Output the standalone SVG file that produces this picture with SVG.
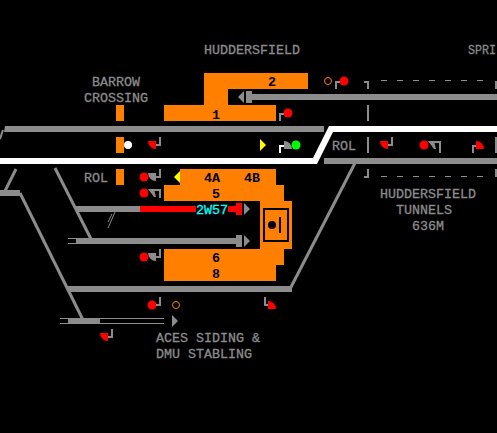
<svg xmlns="http://www.w3.org/2000/svg" width="497" height="433" viewBox="0 0 497 433">
<style>
text{font-family:"Liberation Mono","DejaVu Sans Mono",monospace;font-size:13.33px;fill:#8c8c8c;stroke:#8c8c8c;stroke-width:.3}
.b{fill:#000;stroke:none;font-weight:bold}
.c{fill:#0ff;stroke:#0ff}
.t{fill:#8c8c8c}.o{fill:#ff8000}.r{fill:#f00}
.p{fill:none;stroke:#8c8c8c;stroke-width:2}
.d{fill:none;stroke:#8c8c8c;stroke-width:3}
.th{fill:none;stroke:#8c8c8c;stroke-width:1}
.dash{fill:none;stroke:#8c8c8c;stroke-width:1;stroke-dasharray:6 10}
.ring{fill:none;stroke:#ff8000;stroke-width:1}
</style>
<defs>
<path id="armL" d="M-8,-4H0V4A8,8 0 0 1 -8,-4Z"/>
<path id="armR" d="M0,-4A8,8 0 0 1 8,4H0Z"/>
<path id="armD" d="M-8,-4H-2L0,4H-2Z"/>
</defs>
<rect width="497" height="433" fill="#000"/>
<g id="connectors">
<path class="t" d="M5,126H324V132H4Z"/>
<path d="M3,130L0,139" class="p"/>
<path fill="#fff" d="M0,158H313L329,126H497V132H333L317,164H0Z"/>
<rect class="t" x="324" y="158" width="173" height="6"/>
<rect class="t" x="252" y="94" width="245" height="6"/>
<rect class="t" x="246" y="91" width="6" height="12"/>
<path class="t" d="M244,91V103L238,97Z"/>
<path class="d" d="M16,169L5,191"/>
<rect class="t" x="0" y="190" width="20" height="6"/>
<path class="d" d="M20,193L82.500,319"/>
<path class="d" d="M55,168L92,241"/>
<rect class="t" x="76" y="206" width="64" height="6"/>
<rect class="r" x="140" y="206" width="96" height="6"/>
<rect class="r" x="236" y="203" width="6" height="12"/>
<path class="t" d="M244,203L250,209L244,215Z"/>
<path class="th" d="M115,212L108,228M112,214L108,222"/>
<rect class="t" x="76" y="238" width="160" height="6"/>
<rect class="t" x="236" y="235" width="6" height="12"/>
<path class="t" d="M244,235L250,241L244,247Z"/>
<path class="th" d="M68,238.500H76M68,243.500H76"/>
<rect class="t" x="68" y="286" width="224" height="6"/>
<path class="d" d="M290,289L355,163"/>
<path class="th" d="M60,318.500H164M60,323.500H164"/>
<rect class="t" x="68" y="318" width="32" height="6"/>
<path class="t" d="M172,315L178,321L172,327Z"/>
<path class="dash" d="M381,80.500H490M381,176.500H490"/>
<path class="p" d="M364,82H368V89M368,105V121M368,137V153M496,81V89M496,137V153M368,169V177H364M496,169V177"/>
</g>
<g id="block-2"><path class="o" d="M204,73H308V89H228V105H276V121H164V105H204Z"/><text class="b" x="268" y="86">2</text><text class="b" x="212" y="119">1</text></g>
<g id="block-barrow"><rect class="o" x="116" y="105" width="8" height="16"/><rect class="o" x="116" y="137" width="8" height="16"/><circle cx="128" cy="145" r="4" fill="#fff"/></g>
<g id="block-rol"><rect class="o" x="116" y="169" width="8" height="16"/></g>
<g id="platforms">
<path class="o" d="M180,169H276V185H284V201H292V249H284V265H276V281H164V249H260V201H164V185H180Z"/>
<path fill="#ff0" d="M180,171V183L174,177Z"/>
<rect x="196" y="204" width="32" height="13" fill="#000"/>
<text x="196" y="214" class="c">2W57</text>
<text class="b" x="204" y="182">4A</text><text class="b" x="244" y="182">4B</text>
<text class="b" x="212" y="198">5</text><text class="b" x="212" y="262">6</text><text class="b" x="212" y="278">8</text>
<rect x="264" y="209" width="24" height="32" fill="none" stroke="#000" stroke-width="2"/>
<circle cx="272" cy="225" r="4" fill="#000"/><rect x="279" y="217" width="2" height="16" fill="#000"/>
</g>
<g id="signals">
<use href="#armL" class="r" x="156" y="145"/><path class="p" d="M156,145H160V137"/>
<circle cx="144" cy="177" r="4.500" class="r"/><use href="#armL" class="t" x="156" y="177"/><path class="p" d="M156,177H160V169"/>
<circle cx="144" cy="193" r="4.500" class="r"/><use href="#armD" class="t" x="156" y="193"/><path class="p" d="M154,190H160V198"/>
<circle cx="144" cy="257" r="4.500" class="r"/><use href="#armL" class="t" x="156" y="257"/><path class="p" d="M156,257H160V249"/>
<circle cx="152" cy="305" r="4.500" class="r"/><path class="p" d="M156,305H160V297"/>
<circle cx="176" cy="305" r="3.500" class="ring"/>
<use href="#armR" class="r" x="268" y="305"/><path class="p" d="M265,297V305H268"/>
<path class="r" d="M100,333H108V341A8,8 0 0 1 100,333Z"/><path class="p" d="M108,337H112V329"/>
<circle cx="328" cy="81" r="3.500" class="ring"/><circle cx="344" cy="81" r="4.500" class="r"/><path class="p" d="M336,89V82H340"/>
<circle cx="288" cy="113" r="4.500" class="r"/><path class="p" d="M280,121V114H284"/>
<path fill="#ff0" d="M260,139L266,145L260,151Z"/>
<use href="#armR" class="t" x="284" y="145"/><path fill="none" stroke="#fff" stroke-width="2" d="M280,153V146H284"/><circle cx="296" cy="145" r="4.500" fill="#0f0"/>
<use href="#armL" class="r" x="388" y="145"/><path class="p" d="M388,145H392V137"/>
<circle cx="424" cy="145" r="4.500" class="r"/><use href="#armD" class="t" x="436" y="145"/><path class="p" d="M434,142H440V153"/>
<use href="#armR" class="r" x="476" y="145"/><path class="p" d="M473,153V146H476"/>
</g>
<g id="labels">
<text x="204" y="54">HUDDERSFIELD</text>
<text x="468" y="54" textLength="28" lengthAdjust="spacingAndGlyphs">SPRI</text>
<text x="92" y="86">BARROW</text>
<text x="84" y="102">CROSSING</text>
<text x="332" y="150">ROL</text>
<text x="84" y="182">ROL</text>
<text x="380" y="198">HUDDERSFIELD</text>
<text x="396" y="214">TUNNELS</text>
<text x="412" y="230">636M</text>
<text x="156" y="342">ACES SIDING &amp;</text>
<text x="156" y="358">DMU STABLING</text>
</g>
</svg>
